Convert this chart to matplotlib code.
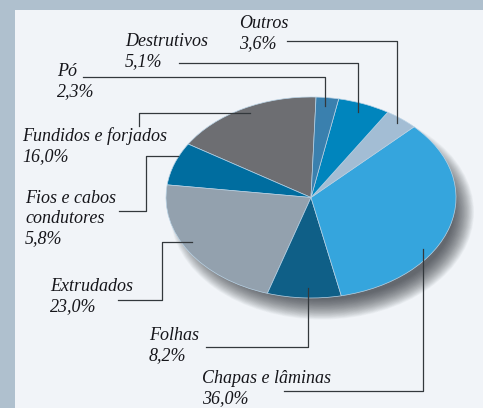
import matplotlib.pyplot as plt
from matplotlib import patches

plt.rcParams["font.family"] = "Liberation Serif"

# Listed counter-clockwise, starting from the top of the pie
names = ["Fundidos e forjados", "Fios e cabos\ncondutores", "Extrudados", "Folhas",
         "Chapas e lâminas", "Outros", "Destrutivos", "Pó"]
# printed percentages
shares = [16.0, 5.8, 23.0, 8.2, 36.0, 3.6, 5.1, 2.3]
# wedge sizes as they are drawn in the picture, not quite the printed numbers
drawn_shares = [16.6, 6.9, 22.1, 8.2, 34.0, 3.7, 5.8, 2.5]
colors = ["#6d6e72", "#006d9f", "#93a1ae", "#0f5f87",
          "#35a5dd", "#a3bdd4", "#0085bd", "#3a80ae"]

W, H = 483, 408
fig = plt.figure(figsize=(W / 100, H / 100), dpi=100, facecolor="#afc0ce")


def pixel_axes(zorder):
    # coordinates in pixels, y going down
    ax = fig.add_axes([0, 0, 1, 1], zorder=zorder)
    ax.set_xlim(0, W)
    ax.set_ylim(H, 0)
    ax.axis("off")
    return ax


back = pixel_axes(0)
back.add_patch(patches.Rectangle((15, 10), W - 15, H - 10, facecolor="#f1f4f8", edgecolor="none"))

# soft shadow, lower right of the pie
for i in range(30):
    grow = 14 - i * 1.4
    back.add_patch(patches.Ellipse((322, 212), 290 + grow, 201 + grow,
                                   facecolor="#2a2e34", edgecolor="none", alpha=0.035))

# pie in its own axes, stretched into an ellipse
cx, cy, a, b = 311, 197.5, 145, 100.5
pie_ax = fig.add_axes([(cx - a) / W, 1 - (cy + b) / H, 2 * a / W, 2 * b / H], zorder=1)
pie_ax.pie(drawn_shares, colors=colors, startangle=88, counterclock=True, radius=1,
           wedgeprops={"edgecolor": "#b9d3e6", "linewidth": 0.5})
pie_ax.set_aspect("auto")
pie_ax.set_xlim(-1, 1)
pie_ax.set_ylim(-1, 1)

front = pixel_axes(2)

# leader lines
leaders = [
    [(287, 41), (397, 41), (397, 123)],
    [(179, 63), (358, 63), (358, 112)],
    [(83, 77), (325, 77), (325, 106)],
    [(139, 126), (139, 113), (250, 113)],
    [(119, 211), (146, 211), (146, 156), (178, 156)],
    [(118, 300), (162, 300), (162, 242), (192, 242)],
    [(206, 347), (308, 347), (308, 288)],
    [(284, 391), (423, 391), (423, 249)],
]
for pts in leaders:
    front.plot(*zip(*pts), color="#33383c", lw=0.9)

# label text: left edge, first line centre
label_pos = {
    "Outros": (239, 23), "Destrutivos": (125, 41), "Pó": (57, 71),
    "Fundidos e forjados": (22, 135), "Fios e cabos\ncondutores": (25, 198),
    "Extrudados": (50, 286), "Folhas": (149, 335), "Chapas e lâminas": (202, 378),
}
for name, share in zip(names, shares):
    x, y = label_pos[name]
    pct = f"{share:.1f}".replace(".", ",") + "%"
    front.text(x, y - 8, name + "\n" + pct, style="italic", fontsize=13, color="#15151a",
               va="top", ha="left", linespacing=1.24)

fig.savefig("out.png", dpi=100, facecolor=fig.get_facecolor())
